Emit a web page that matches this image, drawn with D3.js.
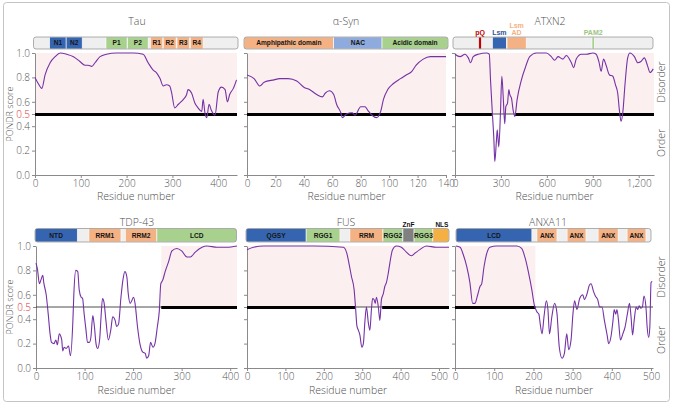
<!DOCTYPE html>
<html><head><meta charset="utf-8">
<script src="https://cdn.jsdelivr.net/npm/d3@7"></script>
<style>body{margin:0;background:#fff} text{font-family:"Open Sans",sans-serif}</style>
</head><body>
<svg id="c" width="673" height="406"></svg>
<script>
// ---------------- DATA ----------------
const tauRes=[0,7,15,22,33,44,55,69,84,98,109,116,124,131,142,156,178,215,236,247,258,265,273,280,287,294,298,305,313,324,331,334,342,349,356,364,367,371,375,380,385,393,400,407,415,420,425,433,440];
const tauScore=[0.80,0.75,0.71,0.82,0.92,0.97,1.0,0.99,0.97,0.93,0.90,0.90,0.89,0.92,0.97,0.99,1.0,1.0,0.99,0.92,0.86,0.84,0.79,0.73,0.74,0.73,0.68,0.55,0.58,0.62,0.66,0.70,0.67,0.59,0.55,0.52,0.62,0.51,0.47,0.58,0.53,0.49,0.68,0.72,0.70,0.60,0.66,0.71,0.78];

const synRes=[0,5,9,12,19,23,29,35,40,44,49,53,55,58,61,63,66,67,70,74,76,80,83,85,88,91,94,96,99,103,108,112,116,119,124,129,133,140];
const synScore=[0.82,0.79,0.73,0.76,0.78,0.79,0.79,0.77,0.72,0.70,0.66,0.64,0.67,0.69,0.66,0.58,0.51,0.47,0.50,0.51,0.49,0.56,0.56,0.53,0.49,0.47,0.52,0.62,0.70,0.75,0.79,0.82,0.85,0.90,0.95,0.97,0.97,0.97];

const atxRes=[0,33,65,87,102,119,152,206,224,232,243,254,260,271,276,286,297,306,315,325,332,343,352,358,369,380,391,406,434,462,488,532,597,629,651,673,705,727,760,775,792,825,857,901,922,940,955,970,987,1009,1031,1048,1063,1074,1085,1096,1111,1128,1143,1172,1194,1215,1237,1259,1274,1295];
const atxScore=[0.99,0.97,0.99,0.96,0.92,0.97,0.99,1.0,0.99,0.78,0.53,0.29,0.11,0.29,0.37,0.23,0.51,0.81,0.64,0.42,0.56,0.59,0.70,0.66,0.63,0.53,0.48,0.62,0.78,0.89,0.97,1.0,1.0,0.97,0.94,0.97,0.95,0.98,0.92,0.88,0.95,0.99,0.99,1.0,0.99,0.93,0.85,0.95,0.90,0.82,0.81,0.74,0.67,0.53,0.44,0.51,0.75,0.96,1.0,0.97,0.92,0.93,0.96,0.89,0.84,0.87];

const tdpRes=[0,3,7,10,14,16,21,25,29,32,37,41,44,48,53,55,58,62,67,71,76,78,82,86,89,93,96,99,103,106,110,113,117,120,124,127,131,134,137,140,144,149,154,158,163,166,170,175,179,183,187,190,194,197,201,204,209,214,220,225,228,232,236,241,245,250,254,257,261,266,273,280,290,300,311,318,328,342,352,373,393,414];
const tdpScore=[0.86,0.81,0.69,0.72,0.76,0.70,0.60,0.45,0.28,0.21,0.20,0.23,0.19,0.28,0.23,0.14,0.17,0.16,0.18,0.10,0.39,0.61,0.80,0.79,0.64,0.58,0.57,0.45,0.31,0.21,0.21,0.25,0.43,0.35,0.19,0.16,0.23,0.42,0.57,0.54,0.39,0.23,0.31,0.42,0.39,0.34,0.36,0.58,0.72,0.79,0.75,0.61,0.53,0.55,0.58,0.53,0.34,0.20,0.13,0.12,0.08,0.10,0.21,0.17,0.20,0.34,0.47,0.69,0.72,0.79,0.87,0.96,0.98,0.96,0.91,0.91,0.95,0.99,1.0,0.99,0.99,1.0];

const fusRes=[0,17,43,173,251,260,266,272,279,283,286,290,294,299,303,307,311,316,320,324,327,331,334,337,342,346,350,355,359,363,368,372,379,389,402,415,428,437,450,467,493,517,526];
const fusScore=[0.97,0.99,1.0,1.0,0.99,0.94,0.85,0.75,0.64,0.48,0.35,0.31,0.27,0.17,0.20,0.38,0.50,0.37,0.31,0.48,0.57,0.56,0.53,0.58,0.50,0.39,0.56,0.61,0.67,0.70,0.78,0.86,0.97,1.0,0.99,0.95,0.92,0.94,0.97,1.0,0.99,0.99,0.99];

const anxRes=[2,13,21,30,38,45,51,57,64,68,74,81,89,106,158,170,179,187,196,202,209,214,217,222,227,233,237,241,247,254,260,266,273,279,285,290,296,301,305,311,318,326,330,336,343,347,353,358,364,369,375,381,388,392,398,403,406,410,413,417,422,428,434,440,445,449,453,457,462,466,470,474,478,482,487,490,494,497,500,503];
const anxScore=[1.0,0.99,0.93,0.83,0.70,0.53,0.53,0.59,0.67,0.69,0.83,0.94,0.99,1.0,1.0,0.98,0.90,0.79,0.64,0.52,0.46,0.44,0.37,0.28,0.42,0.55,0.48,0.28,0.42,0.53,0.45,0.17,0.08,0.12,0.28,0.15,0.23,0.45,0.55,0.48,0.57,0.60,0.56,0.60,0.68,0.69,0.63,0.59,0.56,0.50,0.50,0.39,0.27,0.20,0.26,0.39,0.48,0.44,0.48,0.39,0.23,0.28,0.34,0.45,0.53,0.42,0.27,0.39,0.50,0.48,0.51,0.49,0.50,0.59,0.50,0.34,0.25,0.34,0.70,0.71];

// domains: [label, start, end, kind]
const tauDomains=[["N1",32,68,"blue"],["N2",68,103,"blue"],["P1",155,201,"green"],["P2",202,247,"green"],["R1",252,279,"orange"],["R2",280,308,"orange"],["R3",310,337,"orange"],["R4",339,367,"orange"]];
const synDomains=[["Amphipathic domain",0,61,"orange"],["NAC",61,95,"nac"],["Acidic domain",95,140,"green"]];
const atxDomains=[["pQ",155,172,"red"],["Lsm",245,335,"blue"],["Lsm AD",340,465,"orange"],["PAM2",895,910,"green"]];
const tdpDomains=[["NTD",0,85,"blue"],["RRM1",109,175,"orange"],["RRM2",184,249,"orange"],["LCD",249,414,"green"]];
const fusDomains=[["QGSY",0,154,"blue"],["RGG1",154,242,"green"],["RRM",268,354,"orange"],["RGG2",354,406,"green"],["ZnF",406,435,"gray"],["RGG3",435,484,"green"],["NLS",484,526,"gold"]];
const anxDomains=[["LCD",0,196,"blue"],["ANX",209,260,"orange"],["ANX",286,334,"orange"],["ANX",365,416,"orange"],["ANX",439,487,"orange"]];

// disordered regions (thick line) and shaded regions
const tauThick=[[0,441]], tauShade=[[0,441]];
const synThick=[[0,140]], synShade=[[0,140]];
const atxThick=[[0,241],[391,1300]], atxShade=[[0,1300]];
const tdpThick=[[258,414]], tdpShade=[[258,414]];
const fusThick=[[0,283],[352,526]], fusShade=[[0,526]];
const anxThick=[[0,205]], anxShade=[[0,205]];

const yTickVals=[0,0.2,0.4,0.5,0.6,0.8,1.0];
const tauTicks=[0,100,200,300,400], synTicks=[0,20,40,60,80,100,120,140], atxTicks=[0,300,600,900,1200];
const tdpTicks=[0,100,200,300,400], fusTicks=[0,100,200,300,400,500], anxTicks=[0,100,200,300,400,500];

// ---------------- STYLE / LAYOUT ----------------
const kindColor={blue:"#3565b0",green:"#a9d18e",orange:"#f4b183",nac:"#8faadc",red:"#c00000",gray:"#808080",gold:"#f4b042"};
const labelColor={red:"#c00000",blue:"#2f5597",orange:"#f4b183",green:"#9bc57f"};
const rows={
  top:{y1:53,y0:175,barY:37,barH:12,titleY:25,labelY:200,disY:82,ordY:143},
  bot:{y1:246,y0:368,barY:228.5,barH:13.5,titleY:226,labelY:394,disY:277,ordY:340}
};
const panels=[
 {title:"Tau",res:tauRes,score:tauScore,len:441,x0:35,x1:237,row:"top",ticks:tauTicks,yl:true,dom:tauDomains,thick:tauThick,shade:tauShade,tx:137,bar:[-1.5,1]},
 {title:"\u03b1-Syn",res:synRes,score:synScore,len:140,x0:247,x1:446,row:"top",ticks:synTicks,yl:false,dom:synDomains,thick:synThick,shade:synShade,tx:346,bar:[-3,2]},
 {title:"ATXN2",res:atxRes,score:atxScore,len:1300,x0:455,x1:654,row:"top",ticks:atxTicks,yl:false,dom:atxDomains,thick:atxThick,shade:atxShade,tx:550,bar:[-2,-1],above:true,right:true},
 {title:"TDP-43",res:tdpRes,score:tdpScore,len:414,x0:36,x1:237,row:"bot",ticks:tdpTicks,yl:true,dom:tdpDomains,thick:tdpThick,shade:tdpShade,tx:137,bar:[-1,-0.5]},
 {title:"FUS",res:fusRes,score:fusScore,len:526,x0:247,x1:449,row:"bot",ticks:fusTicks,yl:false,dom:fusDomains,thick:fusThick,shade:fusShade,tx:346,bar:[-1,0]},
 {title:"ANXA11",res:anxRes,score:anxScore,len:505,x0:455,x1:653,row:"bot",ticks:anxTicks,yl:false,dom:anxDomains,thick:anxThick,shade:anxShade,tx:548,bar:[1,-2],right:true}
];

const svg=d3.select("#c");
svg.append("rect").attr("x",3.5).attr("y",2.5).attr("width",666).attr("height",399).attr("rx",3)
  .attr("fill","none").attr("stroke","#c4c4c4");
const defs=svg.append("defs");
const txtCol="#505050";

panels.forEach((p,i)=>{
  const r=rows[p.row];
  const x=d3.scaleLinear().domain([0,p.len]).range([p.x0,p.x1]);
  const y=d3.scaleLinear().domain([0,1]).range([r.y0,r.y1]);
  const g=svg.append("g");

  p.shade.forEach(s=>{
    g.append("rect").attr("x",x(s[0])).attr("width",x(s[1])-x(s[0]))
     .attr("y",y(1)).attr("height",y(0.5)-y(1)).attr("fill","#fcefef");
  });

  const ya=d3.axisLeft(y).tickValues(yTickVals).tickSize(3).tickSizeOuter(0).tickPadding(2)
     .tickFormat(p.yl?d3.format(".1f"):"");
  const yg=g.append("g").attr("transform",`translate(${p.x0},0)`).call(ya);
  const xa=d3.axisBottom(x).tickValues(p.ticks).tickSize(3).tickSizeOuter(0).tickPadding(2)
     .tickFormat(d3.format(","));
  const xg=g.append("g").attr("transform",`translate(0,${r.y0})`).call(xa);
  [yg,xg].forEach(a=>{
    a.selectAll("path,line").attr("stroke","#8a8a8a");
    a.selectAll("text").attr("fill","#555").style("font-size","10px").style("font-weight","300")
      .style("font-family","'Open Sans',sans-serif");
  });
  yg.selectAll(".tick text").filter(d=>d===0.5).attr("fill","#e0332f");

  g.append("line").attr("x1",x(0)).attr("x2",x(p.len)).attr("y1",y(0.5)).attr("y2",y(0.5))
    .attr("stroke","#222").attr("stroke-width",0.8);
  p.thick.forEach(s=>{
    g.append("line").attr("x1",x(s[0])).attr("x2",x(s[1])).attr("y1",y(0.5)+0.5).attr("y2",y(0.5)+0.5)
     .attr("stroke","#000").attr("stroke-width",3);
  });

  const data=d3.zip(p.res,p.score);
  g.append("path").datum(data).attr("fill","none").attr("stroke","#7432a6").attr("stroke-width",1.1)
    .attr("stroke-linejoin","round")
    .attr("d",d3.line().x(d=>x(d[0])).y(d=>y(d[1])).curve(d3.curveMonotoneX));

  const bx0=x(0)+p.bar[0], bx1=x(p.len)+p.bar[1];
  const cid="clip"+i;
  defs.append("clipPath").attr("id",cid).append("rect").attr("x",bx0).attr("y",r.barY)
    .attr("width",bx1-bx0).attr("height",r.barH).attr("rx",2.5);
  const bg=g.append("g");
  bg.append("rect").attr("x",bx0).attr("y",r.barY).attr("width",bx1-bx0).attr("height",r.barH).attr("rx",2.5)
    .attr("fill","#efefef");
  const dg=bg.append("g").attr("clip-path",`url(#${cid})`);
  const fnt="'Liberation Sans',Arial,sans-serif";
  p.dom.forEach(d=>{
    const a=d[1]<=0?bx0:x(d[1]), b=d[2]>=p.len?bx1:x(d[2]);
    dg.append("rect").attr("x",a).attr("y",r.barY).attr("width",b-a).attr("height",r.barH)
      .attr("fill",kindColor[d[3]]).attr("stroke","#fff").attr("stroke-width",0.6);
    const cx=(a+b)/2;
    if(p.above){
      const lc=labelColor[d[3]];
      const parts=d[0].split(" ");
      const lines=parts.length===2?[[parts[0],r.barY-9],[parts[1],r.barY-2.5]]:[[d[0],r.barY-2.5]];
      lines.forEach(l=>{
        bg.append("text").attr("x",cx).attr("y",l[1]).text(l[0])
          .attr("fill",lc).attr("text-anchor","middle").style("font-size","7px").style("font-weight","bold")
          .style("font-family",fnt);
      });
    } else if(d[0]==="ZnF"||d[0]==="NLS"){
      bg.append("text").attr("x",d[0]==="NLS"?cx+1:cx).attr("y",r.barY-1.5).text(d[0])
        .attr("fill","#111").attr("text-anchor","middle").style("font-size","6.5px").style("font-weight","bold")
        .style("font-family",fnt);
    } else {
      bg.append("text").attr("x",cx).attr("y",r.barY+r.barH/2+2.4).text(d[0])
        .attr("fill","#151515").attr("text-anchor","middle").style("font-size","6.6px").style("font-weight","bold")
        .style("font-family",fnt);
    }
  });
  bg.append("rect").attr("x",bx0).attr("y",r.barY).attr("width",bx1-bx0).attr("height",r.barH).attr("rx",2.5)
    .attr("fill","none").attr("stroke","#8c8c8c").attr("stroke-width",0.7);

  const lab=sel=>sel.attr("fill",txtCol).style("font-weight","300");
  lab(g.append("text").attr("x",p.tx).attr("y",r.titleY).attr("text-anchor","middle").text(p.title)
    .style("font-size","10.5px"));
  lab(g.append("text").attr("x",(p.x0+p.x1)/2).attr("y",r.labelY).attr("text-anchor","middle").text("Residue number")
    .style("font-size","10.5px"));
  if(p.yl){
    lab(g.append("text").attr("transform",`translate(10,${y(0.5)}) rotate(-90)`).attr("text-anchor","middle")
      .attr("dy","0.35em").text("PONDR score").style("font-size","9px"));
  }
  if(p.right){
    lab(g.append("text").attr("transform",`translate(665,${r.disY}) rotate(-90)`).attr("text-anchor","middle")
      .text("Disorder").style("font-size","10.5px"));
    lab(g.append("text").attr("transform",`translate(665,${r.ordY}) rotate(-90)`).attr("text-anchor","middle")
      .text("Order").style("font-size","10.5px"));
  }
});
</script>
</body></html>
